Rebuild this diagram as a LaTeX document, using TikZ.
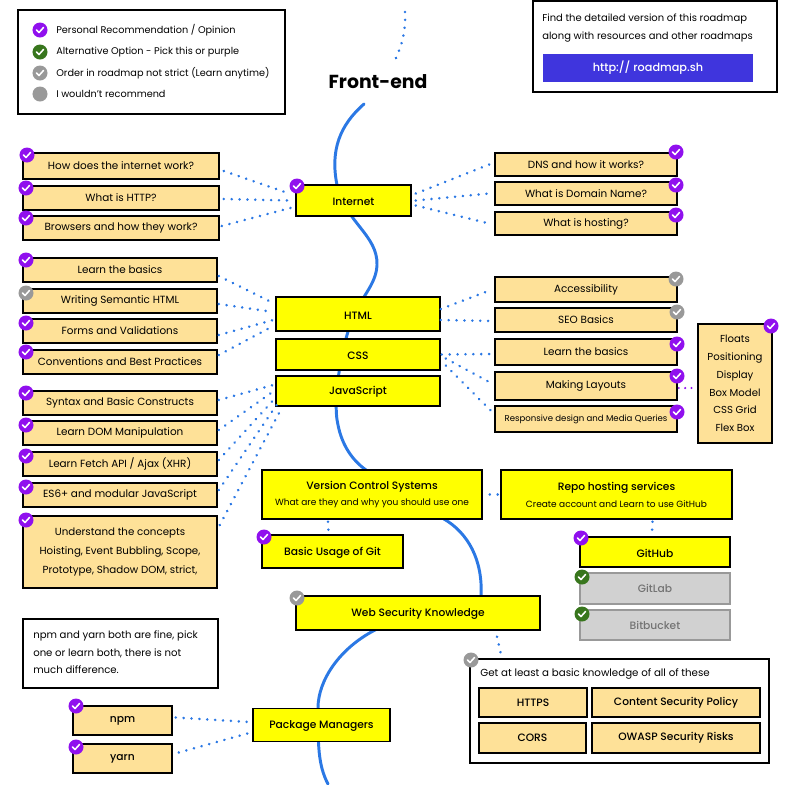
\documentclass[tikz,border=0pt]{standalone}
\usepackage{fontspec}
\setmainfont{Poppins}[BoldFont={Poppins Medium}]
\newfontfamily\headfont{Poppins}
\usetikzlibrary{positioning,calc}
\definecolor{roadblue}{HTML}{2B78E4}
\definecolor{roadyellow}{HTML}{FFFF00}
\definecolor{tickpurple}{HTML}{9010EE}
\definecolor{tickgreen}{HTML}{38761D}
\definecolor{tickgray}{HTML}{999999}
\definecolor{boxorange}{HTML}{FEE198}
\definecolor{boxgray}{HTML}{D1D1D1}
\definecolor{buttonblue}{HTML}{3F35DD}
\begin{document}
\begin{tikzpicture}[x=0.025cm,y=-0.025cm,
    wh/.style 2 args={minimum width=#1*0.025cm,minimum height=#2*0.025cm},
    topic/.style={draw,line width=1.1pt,fill=roadyellow,inner sep=0pt,align=center,font=\fontsize{7.6}{11}\selectfont\bfseries,execute at begin node=\leavevmode\rule{0pt}{7.2pt}},
    sub/.style={draw,line width=1.1pt,fill=boxorange,inner sep=0pt,align=center,font=\fontsize{7.4}{13}\selectfont},
    subbold/.style={sub,font=\fontsize{7.6}{11}\selectfont\bfseries},
    alt/.style={draw=tickgray,line width=1.1pt,fill=boxgray,inner sep=0pt,text=black!55,font=\fontsize{7.6}{11}\selectfont\bfseries},
    plain/.style={draw,line width=1.1pt,fill=white,inner sep=0pt},
    label text/.style={anchor=west,inner sep=0pt,font=\fontsize{6.9}{12}\selectfont},
    link/.style={roadblue,line width=2pt,line cap=round,dash pattern=on 0.01pt off 5.6pt},
    badge/.style={circle,fill=#1,inner sep=0pt,minimum size=0.375cm,path picture={
        \draw[white,line width=1.1pt,line cap=round,line join=round]
          ([shift={(-3.5,0)}]path picture bounding box.center) -- ++(2.5,2.5) -- ++(4.5,-5);}}
  ]
  \useasboundingbox (0,0) rectangle (800,784);
  % road behind the boxes
  \draw[roadblue,line width=2.1pt,line cap=round] (364,104) .. controls (340,125) and (330,150) .. (337,185)
    .. controls (345,222) and (378,235) .. (377,265) .. controls (376,285) and (362,295) .. (352,320)
    .. controls (342,345) and (332,400) .. (338,425) .. controls (342,445) and (352,460) .. (366,470)
    .. controls (385,485) and (420,505) .. (444,519) .. controls (468,533) and (483,560) .. (481,596)
    .. controls (480,615) and (410,612) .. (375,630) .. controls (340,648) and (318,680) .. (318,708)
    .. controls (318,745) and (318,765) .. (328,784);
  % legend
  \node[plain,wh={267}{104}] (legend) at (151.5,62) {};
  \node[badge=tickpurple] (b1) at (40,30) {};
  \node[badge=tickgreen] (b2) at (40,52) {};
  \node[badge=tickgray] (b3) at (40,73) {};
  \node[circle,fill=tickgray,minimum size=0.375cm,inner sep=0pt] (b4) at (40,94) {};
  \node[label text] (l1) at (56,30) {Personal Recommendation / Opinion};
  \node[label text] (l2) at (56,52) {Alternative Option - Pick this or purple};
  \node[label text] (l3) at (56,73) {Order in roadmap not strict (Learn anytime)};
  \node[label text] (l4) at (56,94) {I wouldn't recommend};
  % title and top right box
  \coordinate (top) at (405,12);
  \node[inner sep=0pt,font=\headfont\fontsize{13.4}{15}\selectfont\bfseries] (title) at (378,82) {Front-end};
  \draw[link] (top) .. controls (406,30) and (402,45) .. (396,58);
  \node[plain,wh={244}{91}] (find) at (655,46.5) {};
  \node[label text,font=\fontsize{7.1}{12}\selectfont] (find1) at (542,19) {Find the detailed version of this roadmap};
  \node[label text,font=\fontsize{7.1}{12}\selectfont] (find2) at (542,37) {along with resources and other roadmaps};
  \node[fill=buttonblue,text=white,wh={210}{28},inner sep=0pt,font=\fontsize{8}{9}\selectfont\bfseries] (site) at (648,68) {http:// roadmap.sh};
  % internet
  \node[topic,wh={115}{31}] (internet) at (353.5,200.5) {Internet};
  \node[sub,wh={196}{26}] (howinternet) at (121,166) {How does the internet work?};
  \node[sub,wh={196}{24}] (http) at (121,198) {What is HTTP?};
  \node[sub,wh={196}{24}] (browsers) at (121,228) {Browsers and how they work?};
  \node[sub,wh={182}{23}] (dns) at (586,164.5) {DNS and how it works?};
  \node[sub,wh={182}{23}] (domain) at (586,193.5) {What is Domain Name?};
  \node[sub,wh={182}{23}] (hosting) at (586,223.5) {What is hosting?};
  % html, css, js
  \node[topic,wh={164}{34}] (html) at (358,314) {HTML};
  \node[topic,wh={164}{31}] (css) at (358,354.5) {CSS};
  \node[topic,wh={164}{30}] (js) at (358,391) {JavaScript};
  \node[sub,wh={194}{24}] (basics) at (120,270) {Learn the basics};
  \node[sub,wh={194}{24}] (semantic) at (120,301) {Writing Semantic HTML};
  \node[sub,wh={194}{24}] (forms) at (120,331) {Forms and Validations};
  \node[sub,wh={194}{24}] (conventions) at (120,362) {Conventions and Best Practices};
  \node[sub,wh={194}{24}] (syntax) at (120,403) {Syntax and Basic Constructs};
  \node[sub,wh={194}{24}] (dom) at (120,433) {Learn DOM Manipulation};
  \node[sub,wh={194}{24}] (fetch) at (120,464) {Learn Fetch API / Ajax (XHR)};
  \node[sub,wh={194}{24}] (es6) at (120,495) {ES6+ and modular JavaScript};
  \node[sub,wh={194}{72},font=\fontsize{7.3}{13.5}\selectfont] (concepts) at (120,552) {Understand the concepts\\Hoisting, Event Bubbling, Scope,\\Prototype, Shadow DOM, strict,};
  \node[sub,wh={182}{25}] (access) at (586,289.5) {Accessibility};
  \node[sub,wh={182}{24}] (seo) at (586,320) {SEO Basics};
  \node[sub,wh={182}{26}] (cssbasics) at (586,352) {Learn the basics};
  \node[sub,wh={182}{28}] (layouts) at (586,386) {Making Layouts};
  \node[sub,wh={182}{26},font=\fontsize{6.1}{8}\selectfont] (responsive) at (586,419) {Responsive design and Media Queries};
  \node[sub,wh={74}{119},font=\fontsize{7.2}{12.6}\selectfont] (floats) at (735,383.5) {Floats\\Positioning\\Display\\Box Model\\CSS Grid\\Flex Box};
  % git
  \node[topic,wh={220}{49}] (vcs) at (372,494.5) {Version Control Systems\\[1pt]{\fontsize{6.4}{9}\selectfont\mdseries What are they and why you should use one}};
  \node[topic,wh={231}{49}] (repo) at (616.5,494.5) {Repo hosting services\\[1pt]{\fontsize{6.4}{9}\selectfont\mdseries Create account and Learn to use GitHub}};
  \node[topic,wh={141}{33}] (gitusage) at (332.5,551.5) {Basic Usage of Git};
  \node[topic,wh={150}{30}] (github) at (655,552) {GitHub};
  \node[alt,wh={150}{31}] (gitlab) at (655,588.5) {GitLab};
  \node[alt,wh={150}{30}] (bitbucket) at (655,625) {Bitbucket};
  % security
  \node[topic,wh={244}{34}] (security) at (418,613) {Web Security Knowledge};
  \node[plain,wh={299}{104}] (knowledge) at (619.5,711) {};
  \node[label text,font=\fontsize{7.3}{12}\selectfont] (knowledgetext) at (480,674) {Get at least a basic knowledge of all of these};
  \node[subbold,wh={108}{29}] (https) at (533,702.5) {HTTPS};
  \node[subbold,wh={168}{29}] (csp) at (676,702.5) {Content Security Policy};
  \node[subbold,wh={107}{30}] (cors) at (532.5,738) {CORS};
  \node[subbold,wh={168}{30}] (owasp) at (676,738) {OWASP Security Risks};
  % packages
  \node[plain,wh={195}{69}] (note) at (120.5,653.5) {};
  \node[label text,font=\fontsize{7.2}{12}\selectfont] (note1) at (33,636) {npm and yarn both are fine, pick};
  \node[label text,font=\fontsize{7.2}{12}\selectfont] (note2) at (33,653) {one or learn both, there is not};
  \node[label text,font=\fontsize{7.2}{12}\selectfont] (note3) at (33,670) {much difference.};
  \node[topic,wh={137}{33}] (packages) at (321.5,725) {Package Managers};
  \node[subbold,wh={99}{29}] (npm) at (122.5,720.5) {npm};
  \node[subbold,wh={99}{29}] (yarn) at (122.5,758.5) {yarn};
  % dotted links
  \path[link]
    ($(howinternet.east)+(4,5)$) edge ($(internet.west)+(-6,-7)$)
    ($(http.east)+(4,1)$) edge ($(internet.west)+(-6,0)$)
    ($(browsers.east)+(2,-2)$) edge ($(internet.west)+(-3,7)$)
    ($(internet.east)+(4,-7)$) edge ($(dns.west)+(-5,0)$)
    ($(internet.east)+(4,0)$) edge ($(domain.west)+(-5,0)$)
    ($(internet.east)+(4,5)$) edge ($(hosting.west)+(-5,0)$)
    ($(basics.east)+(1,6)$) edge ($(html.west)+(-2,-11)$)
    ($(semantic.east)+(1,3)$) edge ($(html.west)+(-2,-2)$)
    ($(forms.east)+(1,4)$) edge ($(html.west)+(-2,6)$)
    ($(conventions.east)+(1,-7)$) edge ($(html.west)+(-2,12)$)
    ($(syntax.east)+(1,-3)$) edge ($(js.west)+(-2,-6)$)
    ($(dom.east)+(1,-3)$) edge ($(js.west)+(0,-1)$)
    ($(fetch.east)+(1,-4)$) edge ($(js.west)+(0,7)$)
    ($(es6.east)+(1,-5)$) edge ($(js.west)+(2,13)$)
    ($(concepts.east)+(2,-27)$) edge ($(js.west)+(7,16)$)
    ($(html.east)+(0,-5)$) edge ($(access.west)+(-2,0)$)
    ($(html.east)+(0,6)$) edge ($(seo.west)+(-3,1)$)
    ($(css.east)+(1,0)$) edge ($(cssbasics.west)+(-3,2)$)
    ($(css.east)+(5,4)$) edge ($(layouts.west)+(-5,-4)$)
    ($(css.east)+(5,11)$) edge ($(responsive.west)+(-2,-7)$)
    ($(vcs.east)+(7,0)$) edge ($(repo.west)+(-2,0)$)
    ($(vcs.south)+(-44,2)$) edge ($(gitusage.north)+(-4,-3)$)
    ($(repo.south)+(36,2)$) edge ($(github.north)+(-3,-4)$)
    ($(security.south)+(79,6)$) edge ($(knowledge.north)+(-119,-6)$)
    ($(npm.east)+(3,-3)$) edge ($(packages.west)+(-3,-3)$)
    ($(yarn.east)+(6,-6)$) edge ($(packages.west)+(-3,8)$);
  \draw[tickpurple,line width=1.6pt,line cap=round,dash pattern=on 0.01pt off 4.5pt] ($(layouts.east)+(1,2)$) -- ($(floats.west)+(-1,4.5)$);
  % badges on boxes
  \node[badge=tickpurple] (bhow) at (27,155) {};
  \node[badge=tickpurple] (bhttp) at (26,188) {};
  \node[badge=tickpurple] (bbrowsers) at (26,218) {};
  \node[badge=tickpurple] (binternet) at (297,186) {};
  \node[badge=tickpurple] (bdns) at (676,152) {};
  \node[badge=tickpurple] (bdomain) at (676,185) {};
  \node[badge=tickpurple] (bhosting) at (676,215) {};
  \node[badge=tickpurple] (bbasics) at (26,260) {};
  \node[badge=tickgray] (bsemantic) at (26,293) {};
  \node[badge=tickpurple] (bforms) at (26,323) {};
  \node[badge=tickpurple] (bconventions) at (26,352) {};
  \node[badge=tickpurple] (bsyntax) at (26,393) {};
  \node[badge=tickpurple] (bdom) at (26,425) {};
  \node[badge=tickpurple] (bfetch) at (26,456) {};
  \node[badge=tickpurple] (bes6) at (26,487) {};
  \node[badge=tickpurple] (bconcepts) at (26,520) {};
  \node[badge=tickgray] (baccess) at (676,279) {};
  \node[badge=tickgray] (bseo) at (677,312) {};
  \node[badge=tickpurple] (bcssbasics) at (677,344) {};
  \node[badge=tickpurple] (blayouts) at (677,376) {};
  \node[badge=tickpurple] (bresponsive) at (677,412) {};
  \node[badge=tickpurple] (bfloats) at (771,326) {};
  \node[badge=tickpurple] (bgitusage) at (264,537) {};
  \node[badge=tickpurple] (bgithub) at (581,538) {};
  \node[badge=tickgreen] (bgitlab) at (582,577) {};
  \node[badge=tickgreen] (bbitbucket) at (582,614) {};
  \node[badge=tickgray] (bsecurity) at (297,598) {};
  \node[badge=tickgray] (bknowledge) at (471,660) {};
  \node[badge=tickpurple] (bnpm) at (76,706) {};
  \node[badge=tickpurple] (byarn) at (76,747) {};
\end{tikzpicture}
\end{document}
